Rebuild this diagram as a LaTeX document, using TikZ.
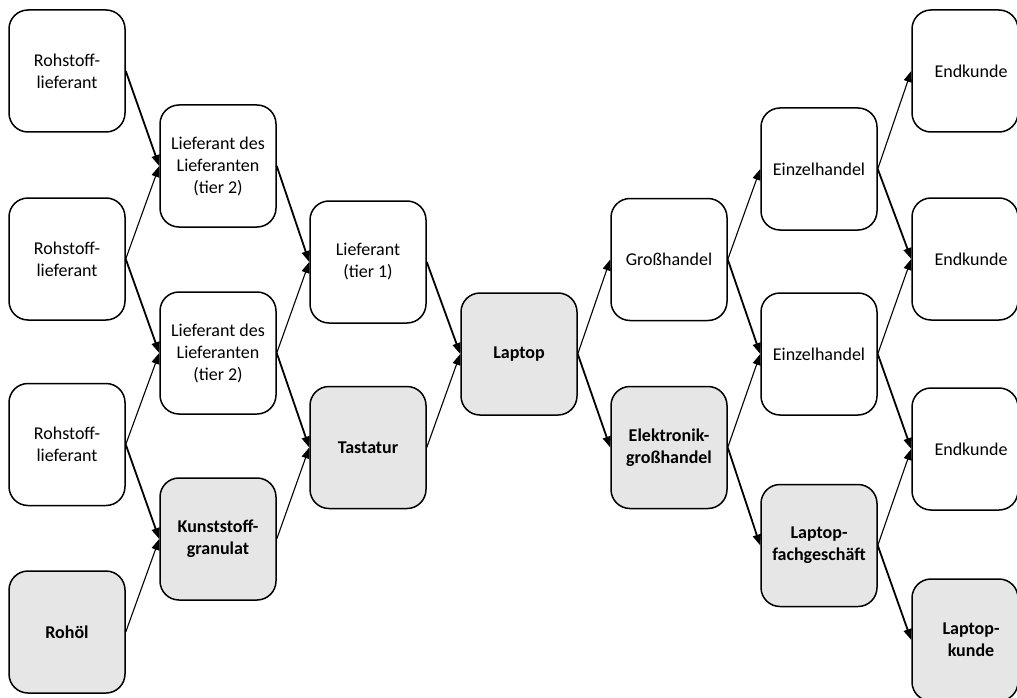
\documentclass[tikz,border=0pt]{standalone}
\usepackage{fontspec}
\setmainfont{Carlito}
\usetikzlibrary{arrows.meta}
\definecolor{boxgray}{HTML}{E6E6E6}
\begin{document}
\begin{tikzpicture}[x=1pt,y=-1pt,
  box/.style={draw, line width=1.5pt, rounded corners=19pt, minimum width=116pt,
    minimum height=122pt, align=center, inner sep=2pt, fill=white,
    font=\fontsize{18}{22}\selectfont},
  keybox/.style={box, fill=boxgray, font=\fontsize{18}{22}\selectfont\bfseries},
  edgebox/.style={minimum width=106pt},
  dn/.style={-{Triangle[length=11pt,width=8pt]}, line width=1.8pt},
  up/.style={-{Triangle[length=11pt,width=8pt]}, line width=1.1pt}]
\clip (0,0) rectangle (1017,698);
\fill[white] (0,0) rectangle (1017,698);
% column 1
\node[box] (r1) at (67,71) {Rohstoff-\\lieferant};
\node[box] (r2) at (67,259) {Rohstoff-\\lieferant};
\node[box] (r3) at (67,444.5) {Rohstoff-\\lieferant};
\node[keybox] (oel) at (67,632) {Rohöl};
% column 2
\node[box] (l1) at (218,166) {Lieferant des\\Lieferanten\\(tier 2)};
\node[box] (l2) at (218,353) {Lieferant des\\Lieferanten\\(tier 2)};
\node[keybox] (kg) at (218,539) {Kunststoff-\\granulat};
% column 3
\node[box] (t1) at (368,262) {Lieferant\\(tier 1)};
\node[keybox] (tast) at (368,447.5) {Tastatur};
% column 4
\node[keybox] (lap) at (519,354) {Laptop};
% column 5
\node[box] (gh) at (669,259.5) {Großhandel};
\node[keybox] (egh) at (669,447.5) {Elektronik-\\großhandel};
% column 6
\node[box] (ez1) at (819,169) {Einzelhandel};
\node[box] (ez2) at (819,354) {Einzelhandel};
\node[keybox] (lfg) at (819,545.5) {Laptop-\\fachgeschäft};
% column 7
\node[box, edgebox] (ek1) at (965,71) {\hspace*{12pt}Endkunde};
\node[box, edgebox] (ek2) at (965,259) {\hspace*{12pt}Endkunde};
\node[box, edgebox] (ek3) at (965,449) {\hspace*{12pt}Endkunde};
\node[keybox, edgebox] (lk) at (965,640) {\hspace*{12pt}Laptop-\\\hspace*{12pt}kunde};
% connectors
\draw[dn] (r1.east) -- (l1.west);
\draw[up] (r2.east) -- (l1.west);
\draw[dn] (r2.east) -- (l2.west);
\draw[up] (r3.east) -- (l2.west);
\draw[dn] (r3.east) -- (kg.west);
\draw[up] (oel.east) -- (kg.west);
\draw[dn] (l1.east) -- (t1.west);
\draw[up] (l2.east) -- (t1.west);
\draw[dn] (l2.east) -- (tast.west);
\draw[up] (kg.east) -- (tast.west);
\draw[dn] (t1.east) -- (lap.west);
\draw[up] (tast.east) -- (lap.west);
\draw[up] (lap.east) -- (gh.west);
\draw[dn] (lap.east) -- (egh.west);
\draw[up] (gh.east) -- (ez1.west);
\draw[dn] (gh.east) -- (ez2.west);
\draw[up] (egh.east) -- (ez2.west);
\draw[dn] (egh.east) -- (lfg.west);
\draw[up] (ez1.east) -- (ek1.west);
\draw[dn] (ez1.east) -- (ek2.west);
\draw[up] (ez2.east) -- (ek2.west);
\draw[dn] (ez2.east) -- (ek3.west);
\draw[up] (lfg.east) -- (ek3.west);
\draw[dn] (lfg.east) -- (lk.west);
\end{tikzpicture}
\end{document}
